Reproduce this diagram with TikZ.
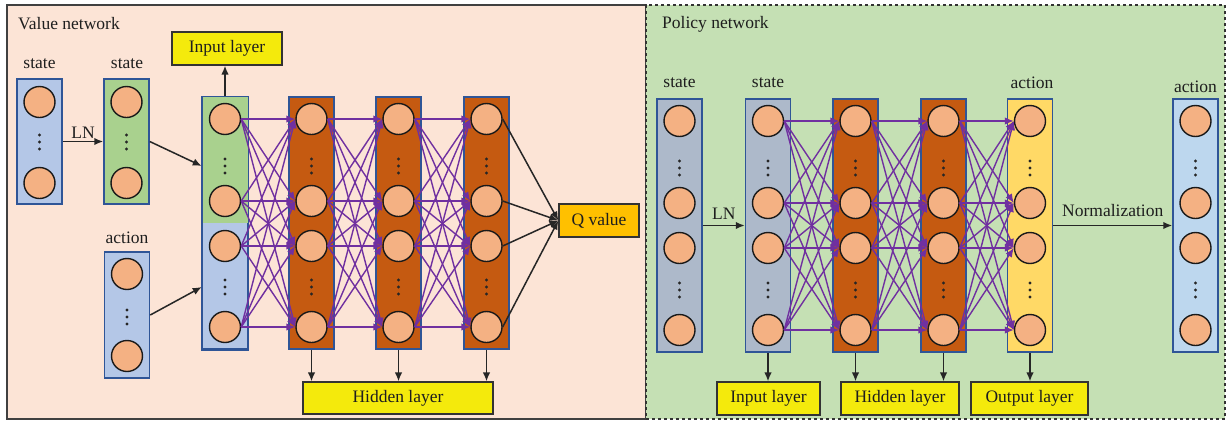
\documentclass[tikz,border=0pt]{standalone}
\usepackage{fontspec}
\setmainfont{Liberation Serif}
\usetikzlibrary{arrows.meta}
\definecolor{vbg}{HTML}{FCE4D6}
\definecolor{pbg}{HTML}{C5E0B4}
\definecolor{lblue}{HTML}{B4C7E7}
\definecolor{lgreen}{HTML}{A9D18E}
\definecolor{hid}{HTML}{C55A11}
\definecolor{neu}{HTML}{F4B183}
\definecolor{bblue}{HTML}{2F5597}
\definecolor{ylw}{HTML}{F4EA0C}
\definecolor{qcol}{HTML}{FFC000}
\definecolor{gblue}{HTML}{ADB9CA}
\definecolor{ocol}{HTML}{FFD966}
\definecolor{abl}{HTML}{BDD7EE}
\definecolor{purp}{HTML}{7030A0}
\definecolor{txt}{HTML}{1E1E1E}
\begin{document}
\begin{tikzpicture}[x=1pt,y=-1pt,
  every node/.style={font=\fontsize{17.5}{21}\selectfont, text=txt},
  colbox/.style={draw=bblue, line width=1.5pt, minimum width=45pt, inner sep=0},
  neuron/.style={circle, draw=black!90, fill=neu, line width=1.4pt, minimum size=31pt, inner sep=0},
  dots3/.style={minimum width=4pt, minimum height=20pt, inner sep=0,
    path picture={\foreach \k in {-7,0,7} \fill[black!85] ([yshift=\k pt]path picture bounding box.center) circle (1.6pt);}},
  ybox/.style={draw=black!80, fill=ylw, line width=1.3pt, minimum height=33pt, inner sep=0},
  conn/.style={draw=purp, line width=1.4pt, -{Latex[length=9pt,width=7.5pt]}},
  blk/.style={draw=black!85, line width=1.5pt, -{Latex[length=9pt,width=7.5pt]}},
  lbl/.style={inner sep=1pt}
]
\useasboundingbox (0,0) rectangle (1227,421);
% panels
\node[draw=black!75, fill=vbg, line width=1.6pt, minimum width=639pt, minimum height=414pt, inner sep=0] (vpanel) at (326.5,212) {};
\node[draw=black!80, fill=pbg, dashed, line width=1.2pt, minimum width=579pt, minimum height=414pt, inner sep=0] (ppanel) at (935.5,212) {};
\node[anchor=west, lbl] (vtitle) at (17,24) {Value network};
\node[anchor=west, lbl] (ptitle) at (661,24) {Policy network};

% ---------- Value network ----------
\node[colbox, fill=lblue, minimum height=125pt] (vs1box) at (39.5,141.5) {};
\node[colbox, fill=lgreen, minimum height=125pt] (vs2box) at (126.5,141.5) {};
\node[colbox, fill=lblue, minimum height=126pt] (vabox) at (127,315) {};
\node[lbl] (vs1l) at (39.5,64) {state};
\node[lbl] (vs2l) at (127,64) {state};
\node[lbl] (val) at (127,238) {action};
\node[neuron] (vs1a) at (39.5,102) {};
\node[neuron] (vs1b) at (39.5,183) {};
\node[dots3] (vs1d) at (39.5,142) {};
\node[neuron] (vs2a) at (126.5,102) {};
\node[neuron] (vs2b) at (126.5,183) {};
\node[dots3] (vs2d) at (126.5,142) {};
\node[neuron] (vaa) at (127,274) {};
\node[neuron] (vab) at (127,356) {};
\node[dots3] (vad) at (127,317) {};

% input column (green top, blue bottom)
\node[colbox, fill=lblue, minimum height=252pt] (vibox) at (225,223) {};
\fill[lgreen] ([xshift=0.7pt,yshift=-0.7pt]vibox.north west) rectangle ([xshift=-0.7pt]vibox.north east |- 0,223);
\draw[bblue, line width=1.5pt] (vibox.north west) rectangle (vibox.south east);
% hidden columns
\node[colbox, fill=hid, minimum height=252pt] (vh1box) at (311.5,223) {};
\node[colbox, fill=hid, minimum height=252pt] (vh2box) at (398.5,223) {};
\node[colbox, fill=hid, minimum height=252pt] (vh3box) at (486.5,223) {};
\foreach \n/\x in {vi/225, vh1/311.5, vh2/398.5, vh3/486.5}{
  \node[neuron] (\n1) at (\x,119) {};
  \node[neuron] (\n2) at (\x,201) {};
  \node[neuron] (\n3) at (\x,246) {};
  \node[neuron] (\n4) at (\x,327) {};
  \node[dots3] (\n d1) at (\x,166) {};
  \node[dots3] (\n d2) at (\x,287) {};
}
\foreach \a/\b in {vi/vh1, vh1/vh2, vh2/vh3}
  \foreach \i in {1,...,4}
    \foreach \j in {1,...,4}
      \draw[conn] (\a\i.east) -- (\b\j.west);

\node[ybox, fill=qcol, minimum width=80pt] (qv) at (599,220.5) {Q value};
\foreach \i in {1,...,4} \draw[blk] (vh3\i.east) -- (qv.west);

\node[ybox, minimum width=110pt] (vinl) at (227,48.5) {Input layer};
\node[ybox, minimum width=190pt, minimum height=32pt] (vhidl) at (398,398) {Hidden layer};
\draw[blk] (vibox.north) -- (vibox.north |- vinl.south);
\foreach \b in {vh1box, vh2box, vh3box} \draw[blk] (\b.south) -- (\b.south |- vhidl.north);

\draw[blk] (vs1box.east) -- node[above, lbl, yshift=1pt] (vln) {LN} (vs2box.west);
\draw[blk] (vs2box.east) -- (vibox.west |- vid1);
\draw[blk] (vabox.east) -- (vibox.west |- vid2);

% ---------- Policy network ----------
\node[colbox, fill=gblue, minimum height=253pt] (ps1box) at (679.5,225.5) {};
\node[colbox, fill=gblue, minimum height=253pt] (ps2box) at (768,225.5) {};
\node[colbox, fill=hid, minimum height=253pt] (ph1box) at (855.5,225.5) {};
\node[colbox, fill=hid, minimum height=253pt] (ph2box) at (943.5,225.5) {};
\node[colbox, fill=ocol, minimum height=253pt] (pobox) at (1030,225.5) {};
\node[colbox, fill=abl, minimum height=253pt] (pabox) at (1195.5,225.5) {};
\node[lbl] (ps1l) at (679.5,83) {state};
\node[lbl] (ps2l) at (768,83) {state};
\node[lbl] (pol) at (1032,83) {action};
\node[lbl] (pal) at (1195.5,87) {action};
\foreach \n/\x in {ps1/679.5, ps2/768, ph1/855.5, ph2/943.5, po/1030, pa/1195.5}{
  \node[neuron] (\n1) at (\x,121) {};
  \node[neuron] (\n2) at (\x,203) {};
  \node[neuron] (\n3) at (\x,248) {};
  \node[neuron] (\n4) at (\x,330) {};
  \node[dots3] (\n d1) at (\x,168) {};
  \node[dots3] (\n d2) at (\x,290) {};
}
\foreach \a/\b in {ps2/ph1, ph1/ph2, ph2/po}
  \foreach \i in {1,...,4}
    \foreach \j in {1,...,4}
      \draw[conn] (\a\i.east) -- (\b\j.west);

\draw[blk] (ps1box.east) -- node[above, lbl, yshift=4pt] (pln) {LN} (ps2box.west);
\draw[blk] (pobox.east) -- node[above, lbl, yshift=7pt] (pnorm) {Normalization} (pabox.west);

\node[ybox, minimum width=103pt] (pinl) at (768.5,398.5) {Input layer};
\node[ybox, minimum width=118pt] (phidl) at (900,398.5) {Hidden layer};
\node[ybox, minimum width=117pt] (poutl) at (1029.5,398.5) {Output layer};
\draw[blk] (ps2box.south) -- (ps2box.south |- pinl.north);
\draw[blk] (ph1box.south) -- (ph1box.south |- phidl.north);
\draw[blk] (ph2box.south) -- (ph2box.south |- phidl.north);
\draw[blk] (pobox.south) -- (pobox.south |- poutl.north);
\end{tikzpicture}
\end{document}
